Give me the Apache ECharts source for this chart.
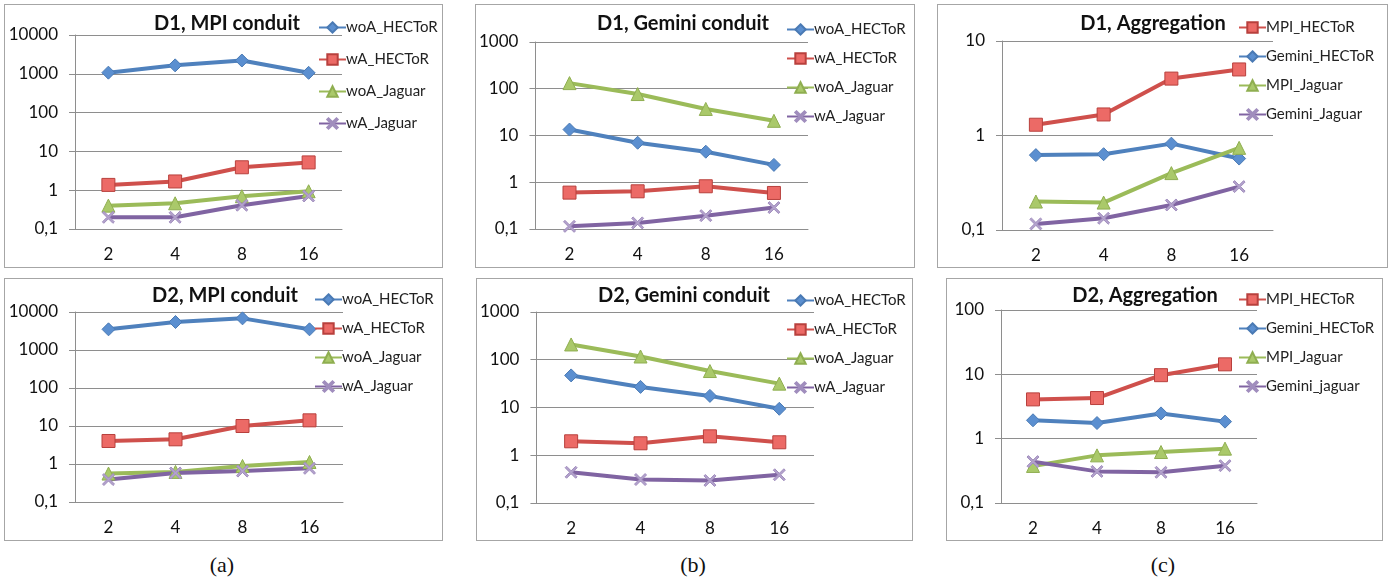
<!DOCTYPE html>
<html>
<head>
<meta charset="utf-8">
<script src="https://cdn.jsdelivr.net/npm/echarts@6/dist/echarts.min.js"></script>
<style>
  body { margin: 0; background: #fff; width: 1396px; height: 585px; position: relative; overflow: hidden; }
  .panel { position: absolute; border: 1px solid #a6a6a6; box-sizing: border-box; }
  .cap { position: absolute; top: 552px; width: 60px; margin-left: -30px; text-align: center;
         font-family: "Liberation Serif", serif; font-size: 22px; color: #111; }
</style>
</head>
<body>
<div id="p1" class="panel" style="left:4px;top:4px;width:439px;height:264px"></div>
<div id="p2" class="panel" style="left:475px;top:4px;width:440px;height:264px"></div>
<div id="p3" class="panel" style="left:937px;top:4px;width:451px;height:264px"></div>
<div id="p4" class="panel" style="left:4px;top:278px;width:439px;height:263px"></div>
<div id="p5" class="panel" style="left:476px;top:278px;width:437px;height:263px"></div>
<div id="p6" class="panel" style="left:946px;top:278px;width:437px;height:263px"></div>
<div class="cap" style="left:222px">(a)</div>
<div class="cap" style="left:693px">(b)</div>
<div class="cap" style="left:1163px">(c)</div>
<script>
// x categories (number of nodes)
const categories = ['2', '4', '8', '16'];

// D1, MPI conduit
const d1Mpi_woA_HECToR = [1070, 1650, 2200, 1060];
const d1Mpi_wA_HECToR = [1.37, 1.68, 3.9, 5.2];
const d1Mpi_woA_Jaguar = [0.40, 0.46, 0.70, 0.94];
const d1Mpi_wA_Jaguar = [0.20, 0.20, 0.41, 0.71];

// D1, Gemini conduit
const d1Gem_woA_HECToR = [13.4, 7.0, 4.5, 2.35];
const d1Gem_wA_HECToR = [0.60, 0.64, 0.82, 0.59];
const d1Gem_woA_Jaguar = [132, 77, 37, 20.6];
const d1Gem_wA_Jaguar = [0.114, 0.135, 0.193, 0.287];

// D1, Aggregation
const d1Agg_MPI_HECToR = [1.30, 1.67, 4.0, 5.0];
const d1Agg_Gemini_HECToR = [0.62, 0.634, 0.82, 0.57];
const d1Agg_MPI_Jaguar = [0.20, 0.195, 0.40, 0.74];
const d1Agg_Gemini_Jaguar = [0.116, 0.133, 0.184, 0.288];

// D2, MPI conduit
const d2Mpi_woA_HECToR = [3500, 5450, 6800, 3500];
const d2Mpi_wA_HECToR = [4.03, 4.46, 10, 14.1];
const d2Mpi_woA_Jaguar = [0.56, 0.62, 0.89, 1.13];
const d2Mpi_wA_Jaguar = [0.39, 0.58, 0.65, 0.77];

// D2, Gemini conduit
const d2Gem_woA_HECToR = [47, 27, 17.5, 9.4];
const d2Gem_wA_HECToR = [1.96, 1.78, 2.49, 1.87];
const d2Gem_woA_Jaguar = [209, 117, 58, 31.6];
const d2Gem_wA_Jaguar = [0.44, 0.31, 0.296, 0.39];

// D2, Aggregation
const d2Agg_MPI_HECToR = [4.08, 4.28, 9.7, 14.3];
const d2Agg_Gemini_HECToR = [1.93, 1.75, 2.47, 1.84];
const d2Agg_MPI_Jaguar = [0.377, 0.55, 0.62, 0.70];
const d2Agg_Gemini_jaguar = [0.44, 0.31, 0.30, 0.38];

const FONT = 'Lato';
const GRID_COLOR = '#8e8e8e';
const X_PATH = 'path://M0,1.2L1.2,0L5,3.8L8.8,0L10,1.2L6.2,5L10,8.8L8.8,10L5,6.2L1.2,10L0,8.8L3.8,5Z';

const styles = {
    blue:   {line: '#4f81bd', fill: '#5b8fd0', border: '#4a7ab4', symbol: 'diamond', size: 13},
    red:    {line: '#cf504c', fill: '#ec6a66', border: '#b8403d', symbol: 'rect', size: 13},
    green:  {line: '#9bbb59', fill: '#aac96a', border: '#8fae50', symbol: 'triangle', size: 13},
    purple: {line: '#8064a2', fill: '#b3a2cc', border: '#a08dbd', symbol: X_PATH, size: 12}
};

function makeSeries(name, data, st) {
    const s = styles[st];
    return {
        name: name,
        type: 'line',
        data: data,
        symbol: s.symbol,
        symbolSize: s.size,
        lineStyle: {color: s.line, width: 4},
        itemStyle: {color: s.fill, borderColor: s.border, borderWidth: 1},
        z: 2
    };
}

function yLabel(v) {
    if (v < 1) return v.toFixed(1).replace('.', ',');
    return String(Math.round(v));
}

function drawPanel(id, cfg) {
    const chart = echarts.init(document.getElementById(id));
    chart.setOption({
        animation: false,
        title: {
            text: cfg.title,
            left: cfg.titleX, top: cfg.titleY,
            textAlign: 'center',
            textStyle: {fontFamily: FONT, fontWeight: 'bold', fontSize: 20, color: '#111'}
        },
        legend: {
            orient: 'vertical',
            left: cfg.legendX, top: cfg.legendY,
            itemGap: cfg.legendGap,
            itemWidth: 27, itemHeight: 13,
            textStyle: {fontFamily: FONT, fontSize: 15, color: '#222', padding: [0, 0, 0, -5]},
            data: cfg.series.map(s => s.name)
        },
        grid: {left: cfg.grid[0], top: cfg.grid[1], width: cfg.grid[2], height: cfg.grid[3]},
        xAxis: {
            type: 'category',
            data: categories,
            boundaryGap: true,
            axisLine: {lineStyle: {color: GRID_COLOR}},
            axisTick: {length: 6, lineStyle: {color: GRID_COLOR}},
            axisLabel: {fontFamily: FONT, fontSize: 17, color: '#111', margin: 17}
        },
        yAxis: {
            type: 'log',
            logBase: 10,
            min: cfg.yMin, max: cfg.yMax,
            axisLine: {show: true, lineStyle: {color: GRID_COLOR}},
            axisTick: {show: true, length: 6, lineStyle: {color: GRID_COLOR}},
            splitLine: {lineStyle: {color: GRID_COLOR}},
            axisLabel: {fontFamily: FONT, fontSize: 17, color: '#111', margin: 17, formatter: yLabel}
        },
        series: cfg.series
    });
}

drawPanel('p1', {
    title: 'D1, MPI conduit', titleX: 217, titleY: 4,
    legendX: 308, legendY: 10, legendGap: 17,
    grid: [70, 30, 267, 194], yMin: 0.1, yMax: 10000,
    series: [
        makeSeries('woA_HECToR', d1Mpi_woA_HECToR, 'blue'),
        makeSeries('wA_HECToR', d1Mpi_wA_HECToR, 'red'),
        makeSeries('woA_Jaguar', d1Mpi_woA_Jaguar, 'green'),
        makeSeries('wA_Jaguar', d1Mpi_wA_Jaguar, 'purple')
    ]
});

drawPanel('p2', {
    title: 'D1, Gemini conduit', titleX: 202, titleY: 4,
    legendX: 305, legendY: 12, legendGap: 14,
    grid: [59, 37, 273, 187], yMin: 0.1, yMax: 1000,
    series: [
        makeSeries('woA_HECToR', d1Gem_woA_HECToR, 'blue'),
        makeSeries('wA_HECToR', d1Gem_wA_HECToR, 'red'),
        makeSeries('woA_Jaguar', d1Gem_woA_Jaguar, 'green'),
        makeSeries('wA_Jaguar', d1Gem_wA_Jaguar, 'purple')
    ]
});

drawPanel('p3', {
    title: 'D1, Aggregation', titleX: 210, titleY: 4,
    legendX: 295, legendY: 10, legendGap: 14,
    grid: [64, 36, 271, 189], yMin: 0.1, yMax: 10,
    series: [
        makeSeries('MPI_HECToR', d1Agg_MPI_HECToR, 'red'),
        makeSeries('Gemini_HECToR', d1Agg_Gemini_HECToR, 'blue'),
        makeSeries('MPI_Jaguar', d1Agg_MPI_Jaguar, 'green'),
        makeSeries('Gemini_Jaguar', d1Agg_Gemini_Jaguar, 'purple')
    ]
});

drawPanel('p4', {
    title: 'D2, MPI conduit', titleX: 215, titleY: 2,
    legendX: 304, legendY: 8, legendGap: 14,
    grid: [70, 33, 268, 190], yMin: 0.1, yMax: 10000,
    series: [
        makeSeries('woA_HECToR', d2Mpi_woA_HECToR, 'blue'),
        makeSeries('wA_HECToR', d2Mpi_wA_HECToR, 'red'),
        makeSeries('woA_Jaguar', d2Mpi_woA_Jaguar, 'green'),
        makeSeries('wA_Jaguar', d2Mpi_wA_Jaguar, 'purple')
    ]
});

drawPanel('p5', {
    title: 'D2, Gemini conduit', titleX: 202, titleY: 2,
    legendX: 304, legendY: 9, legendGap: 14,
    grid: [59, 33, 278, 191], yMin: 0.1, yMax: 1000,
    series: [
        makeSeries('woA_HECToR', d2Gem_woA_HECToR, 'blue'),
        makeSeries('wA_HECToR', d2Gem_wA_HECToR, 'red'),
        makeSeries('woA_Jaguar', d2Gem_woA_Jaguar, 'green'),
        makeSeries('wA_Jaguar', d2Gem_wA_Jaguar, 'purple')
    ]
});

drawPanel('p6', {
    title: 'D2, Aggregation', titleX: 193, titleY: 2,
    legendX: 286, legendY: 8, legendGap: 14,
    grid: [54, 31, 256, 193], yMin: 0.1, yMax: 100,
    series: [
        makeSeries('MPI_HECToR', d2Agg_MPI_HECToR, 'red'),
        makeSeries('Gemini_HECToR', d2Agg_Gemini_HECToR, 'blue'),
        makeSeries('MPI_Jaguar', d2Agg_MPI_Jaguar, 'green'),
        makeSeries('Gemini_jaguar', d2Agg_Gemini_jaguar, 'purple')
    ]
});
</script>
</body>
</html>
